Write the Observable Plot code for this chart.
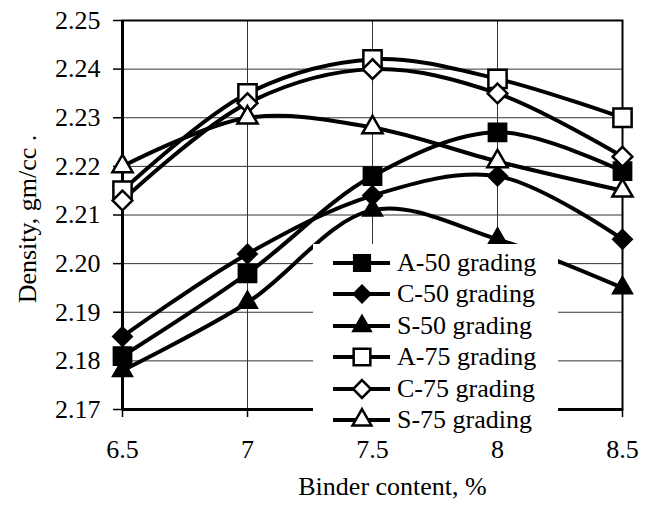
<!DOCTYPE html>
<html><head><meta charset="utf-8">
<script src="https://cdn.jsdelivr.net/npm/d3@7"></script>
<script src="https://cdn.jsdelivr.net/npm/@observablehq/plot@0.6"></script>
<style>
body{margin:0;background:#fff;}
#wrap{position:relative;width:654px;height:512px;font-family:'Liberation Serif',serif;}
#legend{position:absolute;left:313px;top:244px;width:245px;height:192px;background:#fff;}
.row{position:absolute;left:0;height:32px;width:245px;}
.row svg{position:absolute;left:18px;top:0;}
.row span{position:absolute;left:84px;top:0;line-height:32px;font-size:26px;color:#000;white-space:nowrap;font-family:'Liberation Serif',serif;}
</style>
</head><body>
<div id="wrap"><div id="chart"></div><div id="legend"></div></div>
<script>
const binder = [6.5, 7, 7.5, 8, 8.5];
const seriesNames = ["A-50 grading", "C-50 grading", "S-50 grading", "A-75 grading", "C-75 grading", "S-75 grading"];
const a50 = [2.181, 2.198, 2.218, 2.227, 2.219];
const c50 = [2.185, 2.202, 2.214, 2.218, 2.205];
const s50 = [2.178, 2.192, 2.211, 2.205, 2.195];
const a75 = [2.215, 2.235, 2.242, 2.238, 2.230];
const c75 = [2.213, 2.233, 2.240, 2.235, 2.222];
const s75 = [2.220, 2.230, 2.228, 2.221, 2.215];
const yTicks = [2.17, 2.18, 2.19, 2.20, 2.21, 2.22, 2.23, 2.24, 2.25];
const xTicks = [6.5, 7, 7.5, 8, 8.5];

const values = [a50, c50, s50, a75, c75, s75];
const symbols = ["square", "diamond2", "triangle", "square", "diamond2", "triangle"];
const filled = [true, true, true, false, false, false];
const radii = {square: 10.3, diamond2: 8.9, triangle: 7.5};
const legendRadii = {square: 9.4, diamond2: 8.0, triangle: 7.0};

const data = [];
seriesNames.forEach((s, i) => binder.forEach((b, j) => data.push({series: s, binder: b, density: values[i][j]})));

const dotMarks = seriesNames.map((s, i) => Plot.dot(data.filter(d => d.series === s), {
  x: "binder", y: "density", symbol: () => symbols[i], r: radii[symbols[i]],
  fill: filled[i] ? "black" : "white", stroke: "black", strokeWidth: filled[i] ? 1.5 : 2.5
}));

const chart = Plot.plot({
  width: 654, height: 512,
  marginLeft: 122, marginRight: 32, marginTop: 20, marginBottom: 103,
  style: {fontFamily: "'Liberation Serif', serif", fontSize: "26px", color: "black", background: "white"},
  x: {domain: [6.5, 8.5]},
  y: {domain: [2.17, 2.25]},
  symbol: {type: "identity"},
  marks: [
    Plot.gridY(yTicks.slice(1, -1), {stroke: "#333", strokeOpacity: 1, strokeWidth: 1}),
    Plot.gridX(xTicks.slice(1, -1), {stroke: "#333", strokeOpacity: 1, strokeWidth: 1}),
    Plot.axisY(yTicks, {tickSize: 9, tickPadding: 13, tickFormat: d3.format(".2f"), label: null, strokeWidth: 1.5}),
    Plot.axisX(xTicks, {tickSize: 8, tickPadding: 22, tickFormat: d => String(d), label: null, strokeWidth: 1.5}),
    Plot.frame({stroke: "black", strokeWidth: 2}),
    Plot.ruleX([xTicks[0]], {stroke: "black", strokeWidth: 3}),
    Plot.ruleY([yTicks[0]], {stroke: "black", strokeWidth: 3}),
    Plot.line(data, {x: "binder", y: "density", z: "series", curve: "catmull-rom", stroke: "black", strokeWidth: 4}),
    ...dotMarks,
    Plot.text(["Density, gm/cc ."], {frameAnchor: "left", dx: -95, dy: 4, rotate: -90, textAnchor: "middle", fill: "black"}),
    Plot.text(["Binder content, %"], {frameAnchor: "bottom", dx: 20, dy: 85, textAnchor: "middle", fill: "black"})
  ]
});
document.getElementById("chart").appendChild(chart);

const legend = d3.select("#legend");
seriesNames.forEach((s, i) => {
  const row = legend.append("div").attr("class", "row").style("top", (3 + i * 31.4) + "px");
  const svg = row.append("svg").attr("width", 62).attr("height", 32);
  svg.append("line").attr("x1", 2).attr("x2", 59).attr("y1", 16).attr("y2", 16).attr("stroke", "black").attr("stroke-width", 4);
  const sym = {square: d3.symbolSquare, diamond2: d3.symbolDiamond2, triangle: d3.symbolTriangle}[symbols[i]];
  const r = legendRadii[symbols[i]];
  svg.append("path").attr("d", d3.symbol(sym, Math.PI * r * r)()).attr("transform", "translate(31,16)")
    .attr("fill", filled[i] ? "black" : "white").attr("stroke", "black").attr("stroke-width", filled[i] ? 1.5 : 2.5);
  row.append("span").text(s);
});
</script>
</body></html>
